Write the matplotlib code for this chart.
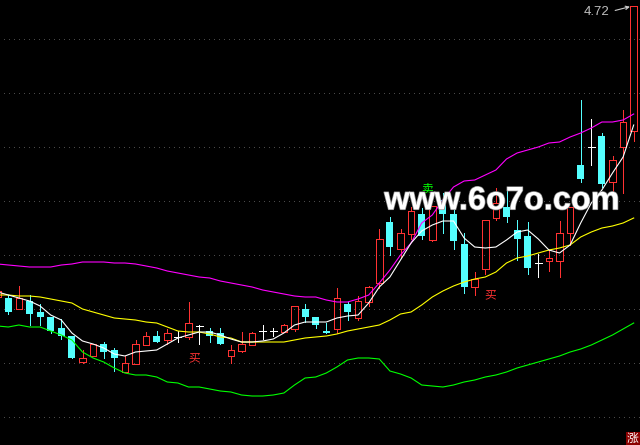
import matplotlib
matplotlib.use("Agg")
import matplotlib.pyplot as plt
import matplotlib.patheffects as pe
from matplotlib.patches import Rectangle

# values are levels (0 = bottom of chart, 445 = top)
H = 445

opens_top = [298, 298, 301, 312, 317, 328, 336, 358, 344, 344, 350, 363, 344, 336, 336, 333, 337, 323, 326, 331,
             333, 350, 344, 333, 331, 331, 325, 306, 309, 317, 331, 298, 304, 301, 287, 239, 222, 233, 211, 214,
             206, 200, 214, 244, 279, 220, 203, 207, 230, 236, 263, 258, 233, 207, 165, 147, 136, 160, 122, 6]
closes_bot = [312, 309, 314, 317, 331, 336, 358, 362, 356, 352, 358, 372, 364, 345, 342, 340, 337, 337, 326, 336,
              344, 356, 351, 345, 331, 331, 332, 329, 317, 325, 333, 329, 312, 318, 302, 283, 247, 249, 234, 236,
              240, 214, 241, 287, 287, 269, 218, 217, 239, 268, 263, 261, 261, 233, 179, 147, 184, 182, 147, 131]
highs = [295, 286, 295, 304, 317, 319, 336, 350, 344, 342, 348, 356, 340, 332, 331, 329, 331, 302, 325, 328,
         328, 345, 332, 332, 325, 328, 324, 306, 304, 317, 323, 288, 302, 296, 286, 229, 217, 229, 207, 208,
         206, 193, 202, 233, 272, 220, 188, 190, 220, 222, 254, 250, 221, 207, 100, 119, 133, 156, 110, 6]
lows = [314, 309, 325, 325, 333, 339, 358, 363, 356, 358, 371, 372, 364, 345, 342, 344, 342, 339, 344, 342,
        344, 363, 352, 345, 339, 336, 332, 331, 322, 328, 333, 333, 320, 320, 306, 288, 255, 257, 239, 239,
        241, 233, 249, 293, 295, 274, 220, 222, 260, 274, 277, 271, 277, 245, 182, 165, 187, 197, 193, 141]
kinds = ["d", "u", "d", "d", "d", "d", "d", "u", "u", "d", "d", "u", "u", "u", "d", "u", "x", "u", "x", "d",
         "d", "u", "u", "u", "x", "x", "u", "u", "d", "d", "d", "u", "d", "u", "u", "u", "d", "u", "u", "d",
         "u", "d", "d", "d", "u", "u", "u", "d", "d", "d", "x", "u", "u", "u", "d", "x", "d", "u", "u", "u"]

# line series start one candle earlier, off the left edge
ma_white = [292, 295, 298, 301, 306, 315, 320, 333, 341, 344, 348, 354, 356, 352, 351, 350, 344, 338, 335, 332, 332,
            335, 339, 342, 342, 341, 339, 333, 325, 322, 322, 322, 318, 316, 315, 303, 287, 277, 260, 243, 231,
            225, 221, 221, 238, 247, 248, 247, 240, 232, 230, 239, 250, 253, 245, 223, 203, 190, 173, 157, 125]
band_mid = [295, 295, 296, 296, 297, 299, 301, 303, 309, 312, 315, 318, 319, 320, 322, 323, 327, 331, 332, 332, 334,
            337, 338, 342, 342, 342, 342, 342, 340, 338, 337, 336, 334, 331, 329, 327, 325, 320, 314, 312, 305,
            297, 291, 286, 282, 279, 277, 272, 263, 258, 256, 253, 250, 248, 245, 237, 232, 228, 226, 223, 218]
band_up = [264, 265, 266, 267, 267, 267, 265, 264, 262, 262, 262, 263, 263, 264, 266, 268, 271, 273, 275, 277, 278,
           281, 283, 285, 287, 290, 292, 294, 296, 297, 297, 300, 302, 302, 299, 295, 283, 270, 255, 243, 223,
           215, 200, 187, 181, 180, 175, 170, 159, 153, 150, 147, 143, 142, 137, 133, 128, 122, 122, 120, 114]
band_low = [326, 327, 325, 327, 327, 331, 335, 340, 352, 358, 362, 368, 373, 375, 375, 377, 382, 383, 387, 387, 389,
            391, 392, 395, 396, 396, 395, 393, 385, 378, 377, 373, 367, 360, 358, 358, 359, 371, 374, 378, 385,
            386, 387, 385, 382, 380, 377, 375, 372, 368, 365, 362, 359, 356, 352, 349, 345, 340, 335, 329, 323]
grid_levels = [39, 93, 147, 201, 255, 309, 363, 417]

RED = "#ff3232"
CYAN = "#54ffff"
LW = 0.72      # one pixel, for straight snapped strokes
CURVE_LW = 0.8

fig = plt.figure(figsize=(6.4, 4.45), dpi=100, facecolor="black")
ax = fig.add_axes([0, 0, 1, 1], facecolor="black")
ax.set_xlim(-8.3 / 10.6, (640 - 8.3) / 10.6)
ax.set_ylim(H, 0)
ax.axis("off")

xs = list(range(len(kinds)))
line_xs = list(range(-1, len(kinds)))

for g in grid_levels:
    ax.plot([-1, xs[-1] + 1], [g, g], color="#4a4a4a", lw=LW, ls=(0, (1, 5)), antialiased=False, zorder=1)

# partly visible candle at the left edge
ax.add_patch(Rectangle((-1.25, 291), 0.6, 6, fill=False, ec=RED, lw=LW, antialiased=False, zorder=3))

for x, top, bot, hi, lo, k in zip(xs, opens_top, closes_bot, highs, lows, kinds):
    if k == "u":
        ax.plot([x, x], [hi, top], color=RED, lw=LW, antialiased=False, zorder=3)
        ax.plot([x, x], [bot, lo], color=RED, lw=LW, antialiased=False, zorder=3)
        ax.add_patch(Rectangle((x - 0.31, top), 0.62, bot - top, fill=False, ec=RED, lw=LW,
                               antialiased=False, snap=True, zorder=3))
    elif k == "d":
        ax.plot([x, x], [hi, lo], color=CYAN, lw=LW, antialiased=False, zorder=3)
        ax.add_patch(Rectangle((x - 0.33, top), 0.66, max(bot - top, 1.5), fc=CYAN, ec="none",
                               antialiased=False, zorder=3))
    else:
        ax.plot([x, x], [hi, lo], color="white", lw=LW, antialiased=False, zorder=3)
        ax.plot([x - 0.33, x + 0.33], [top, top], color="white", lw=LW, antialiased=False, zorder=3)

ax.plot(line_xs, band_up, color="#ff00ff", lw=CURVE_LW, zorder=4)
ax.plot(line_xs, band_mid, color="#ffff00", lw=CURVE_LW, zorder=4)
ax.plot(line_xs, band_low, color="#00ff00", lw=CURVE_LW, zorder=4)
ax.plot(line_xs, ma_white, color="white", lw=CURVE_LW, zorder=5)

# buy / sell signals
cjk = ["Noto Sans CJK SC", "DejaVu Sans"]
ax.text(17.5, 358, "买", color="#ff3232", fontsize=8.5, family=cjk, ha="center", va="center", zorder=6)
ax.text(45.5, 295, "买", color="#ff3232", fontsize=8.5, family=cjk, ha="center", va="center", zorder=6)
ax.text(39.5, 189, "卖", color="#00ff00", fontsize=8.5, family=cjk, ha="center", va="center", zorder=6)

# watermark
wm = ax.text(0.784, 0.5475, "www.6o7o.com", color="white", fontsize=23.4, fontweight="bold",
             family="Liberation Sans", ha="center", va="center", transform=ax.transAxes, zorder=7)
wm.set_path_effects([pe.withStroke(linewidth=1.0, foreground="#888888")])

# last price label
ax.text(0.953, 0.973, "4.72", color="#c0c0c0", fontsize=9.5, family="Liberation Sans", ha="right", va="center",
        transform=ax.transAxes, zorder=7)
ax.annotate("", xy=(xs[-1] - 0.1, highs[-1]), xytext=(0.957, 0.975), textcoords="axes fraction",
            arrowprops=dict(arrowstyle="->", color="#cccccc", lw=0.8, mutation_scale=6), zorder=7)

# corner badge
ax.add_patch(Rectangle((0.978, 0), 0.022, 0.03, transform=ax.transAxes, fc="#8b0000", ec="none", zorder=7))
ax.text(0.989, 0.015, "涨", color="white", fontsize=8.5, family=cjk, ha="center", va="center",
        transform=ax.transAxes, zorder=8)

fig.savefig("out.png", dpi=100, facecolor="black")
